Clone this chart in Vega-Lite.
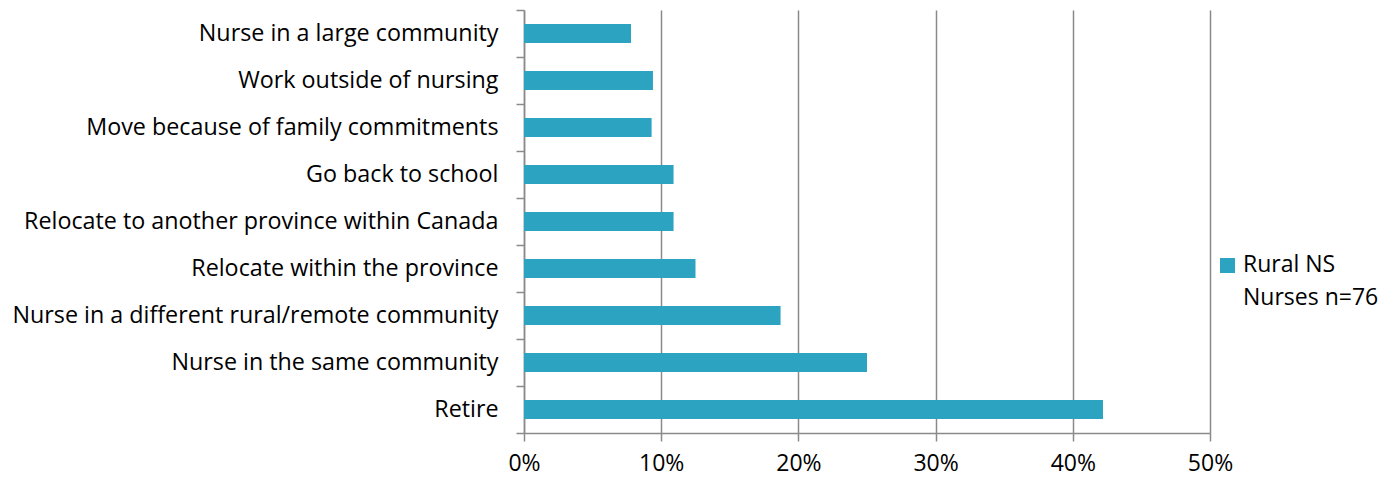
{
  "$schema": "https://vega.github.io/schema/vega-lite/v6.json",
  "autosize": "none",
  "width": 686,
  "height": 423,
  "padding": {"left": 524, "top": 10, "right": 182, "bottom": 47},
  "background": "white",
  "data": {
    "values": [
      {"option": "Nurse in a large community", "pct": 7.8, "group": "Rural NS Nurses n=76"},
      {"option": "Work outside of nursing", "pct": 9.4, "group": "Rural NS Nurses n=76"},
      {"option": "Move because of family commitments", "pct": 9.3, "group": "Rural NS Nurses n=76"},
      {"option": "Go back to school ", "pct": 10.9, "group": "Rural NS Nurses n=76"},
      {"option": "Relocate to another province within Canada", "pct": 10.9, "group": "Rural NS Nurses n=76"},
      {"option": "Relocate within the province ", "pct": 12.5, "group": "Rural NS Nurses n=76"},
      {"option": "Nurse in a different rural/remote community", "pct": 18.7, "group": "Rural NS Nurses n=76"},
      {"option": "Nurse in the same community", "pct": 25.0, "group": "Rural NS Nurses n=76"},
      {"option": "Retire", "pct": 42.2, "group": "Rural NS Nurses n=76"}
    ]
  },
  "mark": {"type": "bar", "height": {"band": 0.4}},
  "encoding": {
    "y": {
      "field": "option",
      "type": "nominal",
      "sort": null,
      "scale": {"paddingInner": 0, "paddingOuter": 0},
      "axis": {
        "title": null,
        "tickBand": "extent",
        "domainColor": "#8a8a8a",
        "domainWidth": 1.5,
        "tickColor": "#8a8a8a",
        "tickWidth": 1.5,
        "tickSize": 8,
        "labelPadding": 18,
        "labelFont": "Open Sans",
        "labelFontSize": 23.3,
        "labelColor": "#000000",
        "labelLimit": 600
      }
    },
    "x": {
      "field": "pct",
      "type": "quantitative",
      "scale": {"domain": [0, 50]},
      "axis": {
        "title": null,
        "values": [0, 10, 20, 30, 40, 50],
        "labelExpr": "datum.value + '%'",
        "grid": true,
        "gridColor": "#8a8a8a",
        "gridWidth": 1.5,
        "domainColor": "#8a8a8a",
        "domainWidth": 1.5,
        "tickColor": "#8a8a8a",
        "tickWidth": 1.5,
        "tickSize": 8,
        "labelPadding": 11,
        "labelFont": "Open Sans",
        "labelFontSize": 23,
        "labelColor": "#000000",
        "labelFlush": false
      }
    },
    "color": {
      "field": "group",
      "type": "nominal",
      "scale": {"range": ["#2CA3C0"]},
      "legend": {
        "title": null,
        "orient": "none",
        "legendX": 692,
        "legendY": 244,
        "symbolType": "square",
        "symbolSize": 225,
        "symbolStrokeWidth": 0,
        "labelFont": "Open Sans",
        "labelFontSize": 23,
        "labelColor": "#000000",
        "labelOffset": 4,
        "labelExpr": "['Rural NS', 'Nurses n=76']",
        "labelLimit": 300,
        "labelBaseline": "top",
        "encode": {"labels": {"update": {"lineHeight": {"value": 33}, "dy": {"value": -12}}}}
      }
    }
  },
  "config": {"view": {"stroke": null}}
}
